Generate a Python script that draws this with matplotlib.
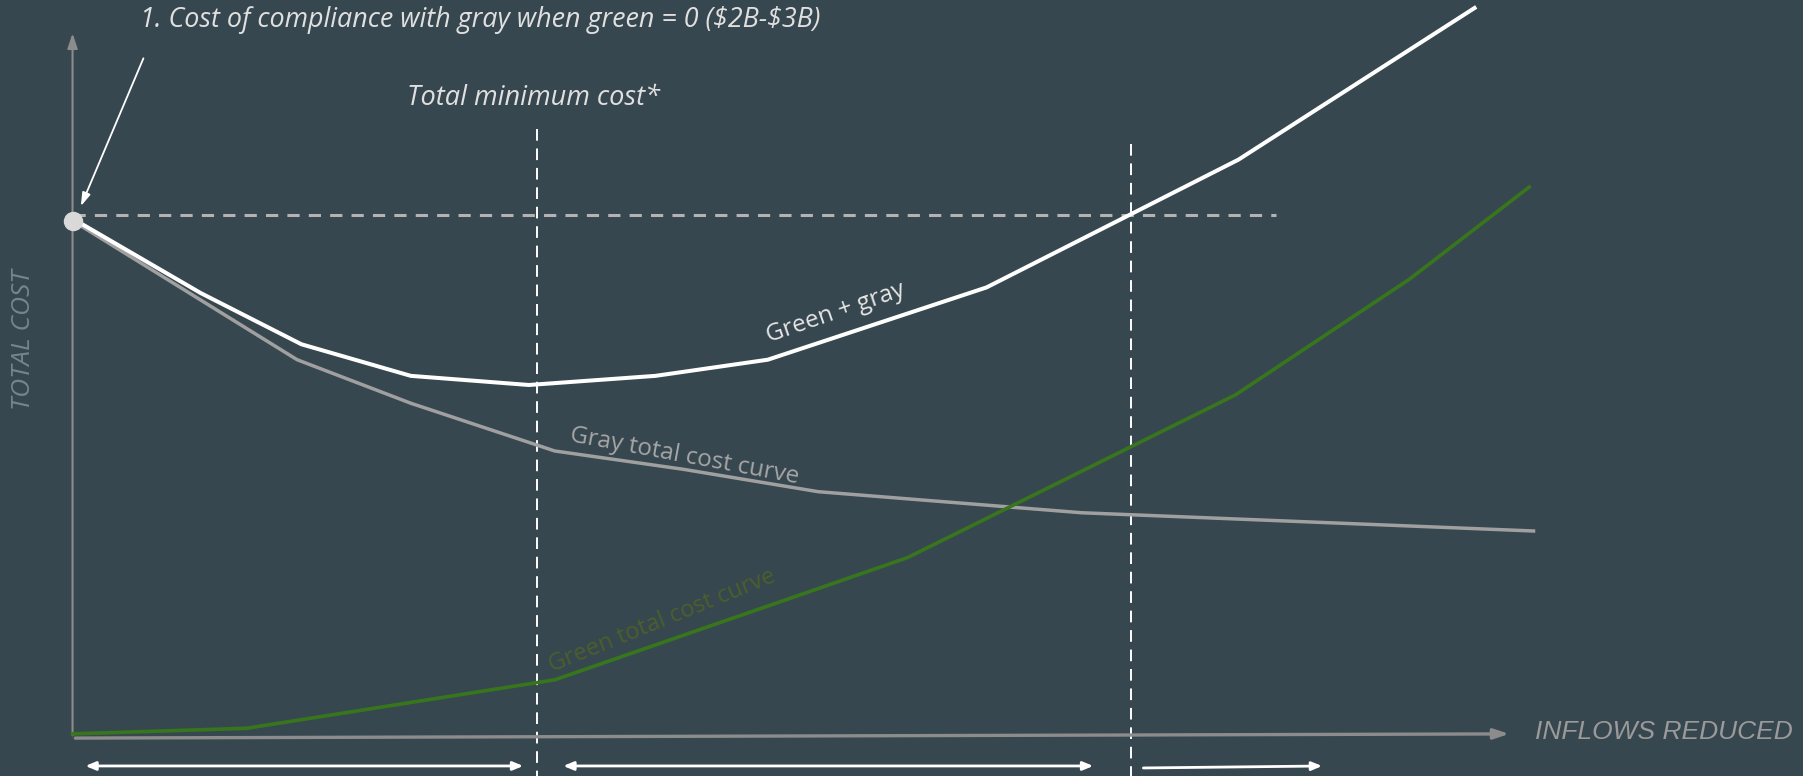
import matplotlib

matplotlib.use("Agg")
import matplotlib.pyplot as plt

# schematic values: x = inflows reduced (0-100), y = total cost (0-100)
green_gray_x = [0, 8.9, 15.9, 23.5, 31.7, 40.5, 48.3, 63.5, 81.0, 97.4]
green_gray_y = [73.7, 63.1, 55.8, 51.3, 50.0, 51.3, 53.6, 63.9, 82.1, 103.7]

gray_x = [0, 15.6, 23.5, 33.5, 42.4, 51.8, 70.1, 101.5]
gray_y = [73.4, 53.6, 47.4, 40.6, 38.0, 34.8, 31.8, 29.2]

green_x = [0, 12.1, 33.5, 58.0, 80.8, 92.9, 101.2]
green_y = [0.3, 1.1, 8.0, 25.4, 48.6, 65.1, 78.2]

gray_only_cost = 74.2          # cost with gray when green = 0
min_cost_x = 32.3              # total minimum cost
break_even_x = 73.5            # green+gray equals gray-only cost

BG = "#37474f"
AXIS = "#8c8c8c"

fig = plt.figure(figsize=(18.03, 7.76), dpi=100)
fig.patch.set_facecolor(BG)
ax = fig.add_axes([0, 0, 1, 1])
ax.set_facecolor(BG)
ax.set_xlim(-5.04, 120.22)
ax.set_ylim(-5.70, 104.84)
ax.axis("off")

# axes arrows
ax.annotate("", xy=(100, 0.3), xytext=(0, -0.3),
            arrowprops=dict(arrowstyle="-|>,head_length=0.9,head_width=0.3", color=AXIS, lw=2.4))
ax.annotate("", xy=(0, 100.5), xytext=(0, -0.3),
            arrowprops=dict(arrowstyle="-|>,head_length=0.9,head_width=0.3", color=AXIS, lw=1.5))

# reference lines
ax.plot([0, 83.6], [gray_only_cost, gray_only_cost], color="#b3b3b3", lw=2.2,
        dashes=(4, 3), zorder=2)
ax.plot([min_cost_x, min_cost_x], [86.5, -5.7], color="white", lw=1.4, dashes=(6, 4), zorder=2)
ax.plot([break_even_x, break_even_x], [84.3, -5.7], color="white", lw=1.4, dashes=(6, 4), zorder=2)

# curves
ax.plot(gray_x, gray_y, color="#a0a0a0", lw=2.5, zorder=3)
ax.plot(green_x, green_y, color="#38761d", lw=2.6, zorder=3)
ax.plot(green_gray_x, green_gray_y, color="white", lw=2.9, zorder=4)
ax.plot([0], [gray_only_cost - 0.8], "o", color="#d9d9d9", ms=13, zorder=5)

# curve labels
ax.text(53.0, 60.2, "Green + gray", color="#e6e6e6", fontsize=17.5, family="Open Sans",
        rotation=19, ha="center", va="center")
ax.text(42.5, 39.8, "Gray total cost curve", color="#a6a6a6", fontsize=17.5, family="Open Sans",
        rotation=-10.5, ha="center", va="center")
ax.text(41.0, 16.4, "Green total cost curve", color="#4b5f2b", fontsize=17, family="Open Sans",
        rotation=22, ha="center", va="center")

# titles / notes
ax.text(28.3, 102.0, "1. Cost of compliance with gray when green = 0 (\\$2B-\\$3B)",
        color="#e0e0e0", fontsize=19.4, style="italic",
        family="Open Sans", ha="center", va="center")
ax.annotate("", xy=(0.5, 75.1), xytext=(5.0, 96.9),
            arrowprops=dict(arrowstyle="-|>,head_length=0.8,head_width=0.25", color="white", lw=1.3))
ax.text(32.0, 90.9, "Total minimum cost*", color="#e0e0e0", fontsize=19.5, style="italic",
        family="Open Sans", ha="center", va="center")
ax.text(-3.44, 56.5, "TOTAL COST", color="#76858c", fontsize=19, style="italic",
        family="Open Sans", rotation=90, ha="center", va="center")
ax.text(101.6, 0.5, "INFLOWS REDUCED", color="#9a9a9a", fontsize=19, style="italic",
        family="Liberation Sans", ha="left", va="center")

# range arrows below the x axis
ax.annotate("", xy=(31.5, -4.27), xytext=(0.7, -4.27),
            arrowprops=dict(arrowstyle="<|-|>,head_length=0.6,head_width=0.25", color="white", lw=2))
ax.annotate("", xy=(71.1, -4.27), xytext=(33.9, -4.27),
            arrowprops=dict(arrowstyle="<|-|>,head_length=0.6,head_width=0.25", color="white", lw=2))
ax.annotate("", xy=(87.0, -4.27), xytext=(74.2, -4.56),
            arrowprops=dict(arrowstyle="-|>,head_length=0.6,head_width=0.25", color="white", lw=2))

fig.savefig("out.png", dpi=100, facecolor=BG)
